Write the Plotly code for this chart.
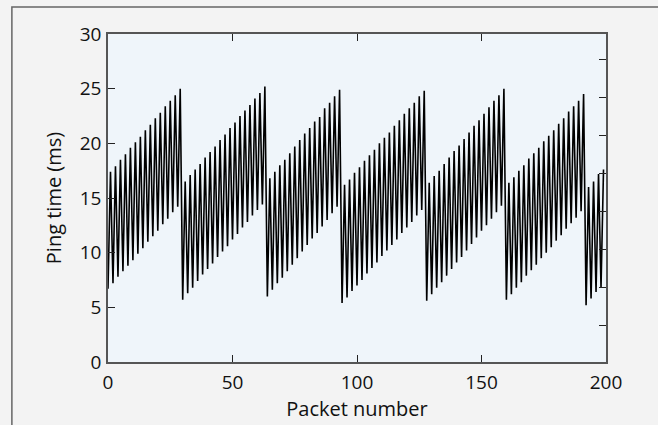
import plotly.graph_objects as go

# Ping times (ms); each cycle alternates low/high samples
cycle1_low = [6.7, 7.2, 7.8, 8.3, 8.8, 9.3, 9.9, 10.4, 11.0, 11.5, 12.0, 12.6, 13.1, 13.7, 14.2]
cycle1_high = [17.4, 17.9, 18.5, 19.0, 19.6, 20.1, 20.6, 21.2, 21.7, 22.3, 22.8, 23.4, 23.9, 24.4, 25.0]

cycle2_low = [5.7, 6.3, 6.8, 7.4, 8.0, 8.5, 9.0, 9.6, 10.1, 10.6, 11.2, 11.7, 12.3, 12.8, 13.4, 13.9, 14.4]
cycle2_high = [16.5, 17.1, 17.6, 18.1, 18.7, 19.2, 19.7, 20.3, 20.8, 21.4, 21.9, 22.5, 23.0, 23.5, 24.1, 24.6, 25.2]

cycle3_low = [6.0, 6.6, 7.2, 7.7, 8.3, 8.9, 9.5, 10.1, 10.7, 11.3, 11.8, 12.4, 13.0, 13.6, 14.2]
cycle3_high = [16.8, 17.4, 18.0, 18.5, 19.1, 19.7, 20.3, 20.9, 21.4, 22.0, 22.4, 23.2, 23.7, 24.3, 24.9]

cycle4_low = [5.4, 5.9, 6.5, 7.0, 7.5, 8.1, 8.6, 9.1, 9.7, 10.2, 10.7, 11.2, 11.8, 12.3, 12.8, 13.4, 13.9]
cycle4_high = [16.2, 16.7, 17.3, 17.8, 18.4, 18.9, 19.4, 20.0, 20.5, 21.0, 21.6, 22.1, 22.7, 23.2, 23.7, 24.3, 24.8]

cycle5_low = [5.6, 6.2, 6.8, 7.3, 7.9, 8.5, 9.1, 9.6, 10.2, 10.8, 11.4, 12.0, 12.5, 13.1, 13.7, 14.3]
cycle5_high = [16.4, 17.0, 17.5, 18.1, 18.7, 19.3, 19.8, 20.4, 21.0, 21.6, 22.1, 22.7, 23.3, 23.9, 24.4, 25.0]

cycle6_low = [5.7, 6.2, 6.8, 7.3, 7.9, 8.4, 8.9, 9.5, 10.0, 10.5, 11.1, 11.6, 12.2, 12.7, 13.2, 13.8]
cycle6_high = [16.4, 16.9, 17.5, 18.0, 18.6, 19.1, 19.6, 20.2, 20.7, 21.2, 21.8, 22.3, 22.9, 23.4, 23.9, 24.5]

cycle7_low = [5.2, 5.8, 6.4, 6.8]
cycle7_high = [16.0, 16.5, 17.2, 17.6]

x_ticks = [0, 50, 100, 150, 200]
y_ticks = [0, 5, 10, 15, 20, 25, 30]
right_ticks = [1, 2, 3, 4, 5, 6, 7, 8]

cycles = [
    (cycle1_low, cycle1_high), (cycle2_low, cycle2_high), (cycle3_low, cycle3_high),
    (cycle4_low, cycle4_high), (cycle5_low, cycle5_high), (cycle6_low, cycle6_high),
    (cycle7_low, cycle7_high),
]
ping = []
for lows, highs in cycles:
    for lo, hi in zip(lows, highs):
        ping.append(lo)
        ping.append(hi)
packet = list(range(len(ping)))

FONT = "Open Sans"
AX = "#555555"

fig = go.Figure()
fig.add_trace(go.Scatter(x=packet, y=ping, mode="lines",
                         line=dict(color="black", width=1.6), showlegend=False))
fig.add_trace(go.Scatter(x=[None], y=[None], yaxis="y2", mode="lines",
                         showlegend=False, hoverinfo="skip"))

fig.update_layout(
    width=658, height=425,
    margin=dict(l=108, r=52, t=34, b=63),
    paper_bgcolor="#f3f3f3",
    plot_bgcolor="#eff5fa",
    font=dict(family=FONT, size=19, color="#111111"),
    xaxis=dict(
        range=[0, 200], tickvals=x_ticks, ticks="inside", ticklen=7, tickwidth=1,
        tickcolor="#222222", showline=True, linecolor=AX, linewidth=1.5,
        mirror="ticks", showgrid=False, zeroline=False,
        title=dict(text="Packet number", standoff=0, font=dict(size=20)),
        tickfont=dict(size=19), ticklabelstandoff=2,
    ),
    yaxis=dict(
        range=[0, 30], tickvals=y_ticks, ticks="inside", ticklen=7, tickwidth=1,
        tickcolor="#222222", showline=True, linecolor=AX, linewidth=1.5,
        showgrid=False, zeroline=False,
        title=dict(text="Ping time (ms)", standoff=13, font=dict(size=20)),
        tickfont=dict(size=19), ticklabelstandoff=1,
    ),
    yaxis2=dict(
        overlaying="y", side="right", range=[0.05, 8.68], tickvals=right_ticks,
        ticks="inside", ticklen=7, tickwidth=1, tickcolor="#222222",
        showticklabels=False, showline=True, linecolor=AX, linewidth=1.5,
        showgrid=False, zeroline=False,
    ),
    shapes=[dict(type="rect", xref="paper", yref="paper",
                 x0=-0.193, x1=1.12, y0=-0.21, y1=1.082,
                 line=dict(color="#666666", width=1.5), fillcolor="rgba(0,0,0,0)",
                 layer="below")],
)

fig.write_html("out.html")
